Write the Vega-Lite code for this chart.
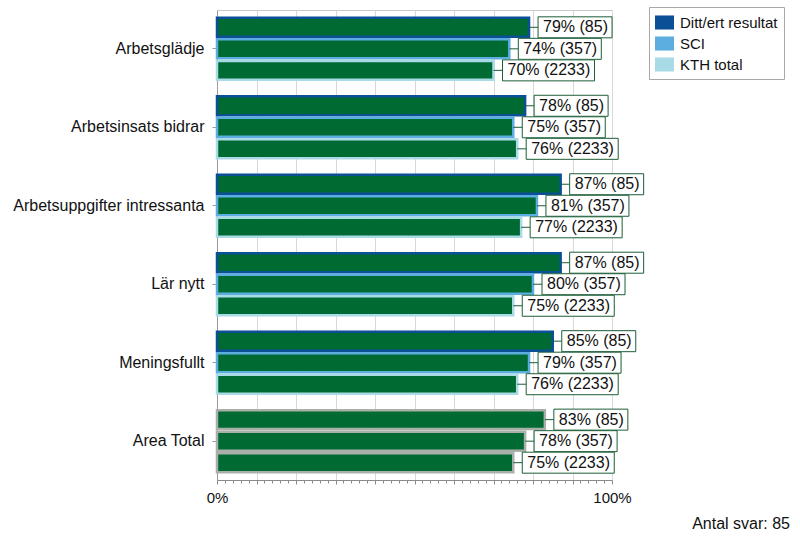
{
  "$schema": "https://vega.github.io/schema/vega-lite/v6.json",
  "width": 395,
  "height": 470,
  "autosize": {"type": "none"},
  "padding": {"left": 217, "top": 10, "right": 188, "bottom": 60},
  "background": "#ffffff",
  "config": {
    "font": "Liberation Sans",
    "view": {"stroke": "#c8c8c8", "strokeWidth": 1},
    "axis": {"labelFont": "Liberation Sans", "labelFontSize": 16, "labelColor": "#111111"}
  },
  "title": {
    "text": "Antal svar: 85",
    "orient": "bottom",
    "anchor": "end",
    "frame": "group",
    "dx": 178,
    "offset": 11,
    "fontSize": 16,
    "fontWeight": "normal",
    "font": "Liberation Sans",
    "color": "#111111"
  },
  "data": {
    "values": [
      {"cat": "Arbetsglädje", "series": "Ditt/ert resultat", "value": 79, "label": "79% (85)"},
      {"cat": "Arbetsglädje", "series": "SCI", "value": 74, "label": "74% (357)"},
      {"cat": "Arbetsglädje", "series": "KTH total", "value": 70, "label": "70% (2233)"},
      {"cat": "Arbetsinsats bidrar", "series": "Ditt/ert resultat", "value": 78, "label": "78% (85)"},
      {"cat": "Arbetsinsats bidrar", "series": "SCI", "value": 75, "label": "75% (357)"},
      {"cat": "Arbetsinsats bidrar", "series": "KTH total", "value": 76, "label": "76% (2233)"},
      {"cat": "Arbetsuppgifter intressanta", "series": "Ditt/ert resultat", "value": 87, "label": "87% (85)"},
      {"cat": "Arbetsuppgifter intressanta", "series": "SCI", "value": 81, "label": "81% (357)"},
      {"cat": "Arbetsuppgifter intressanta", "series": "KTH total", "value": 77, "label": "77% (2233)"},
      {"cat": "Lär nytt", "series": "Ditt/ert resultat", "value": 87, "label": "87% (85)"},
      {"cat": "Lär nytt", "series": "SCI", "value": 80, "label": "80% (357)"},
      {"cat": "Lär nytt", "series": "KTH total", "value": 75, "label": "75% (2233)"},
      {"cat": "Meningsfullt", "series": "Ditt/ert resultat", "value": 85, "label": "85% (85)"},
      {"cat": "Meningsfullt", "series": "SCI", "value": 79, "label": "79% (357)"},
      {"cat": "Meningsfullt", "series": "KTH total", "value": 76, "label": "76% (2233)"},
      {"cat": "Area Total", "series": "Ditt/ert resultat", "value": 83, "label": "83% (85)"},
      {"cat": "Area Total", "series": "SCI", "value": 78, "label": "78% (357)"},
      {"cat": "Area Total", "series": "KTH total", "value": 75, "label": "75% (2233)"}
    ]
  },
  "encoding": {
    "y": {
      "field": "cat",
      "type": "nominal",
      "sort": ["Arbetsglädje", "Arbetsinsats bidrar", "Arbetsuppgifter intressanta", "Lär nytt", "Meningsfullt", "Area Total"],
      "scale": {"paddingInner": 0.21, "paddingOuter": 0.1},
      "axis": {
        "title": null,
        "tickSize": 5,
        "labelPadding": 8,
        "labelLimit": 400,
        "domainColor": "#9a9a9a",
        "tickColor": "#9a9a9a",
        "labelFontSize": 16
      }
    },
    "yOffset": {
      "field": "series",
      "type": "nominal",
      "sort": ["Ditt/ert resultat", "SCI", "KTH total"],
      "scale": {"paddingInner": 0.12, "paddingOuter": 0}
    }
  },
  "layer": [
    {
      "mark": {"type": "bar", "opacity": 0},
      "encoding": {
        "x": {"field": "value", "type": "quantitative", "axis": null},
        "color": {
          "field": "series",
          "type": "nominal",
          "sort": ["Ditt/ert resultat", "SCI", "KTH total"],
          "scale": {"domain": ["Ditt/ert resultat", "SCI", "KTH total"], "range": ["#0b4f97", "#5caee0", "#a9dbe6"]},
          "legend": {
            "orient": "none",
            "legendX": 432,
            "legendY": -3,
            "title": null,
            "symbolType": "M-1,-0.74H1V0.74H-1Z",
            "symbolSize": 361,
            "symbolStrokeWidth": 0,
            "symbolOpacity": 1,
            "labelFontSize": 15,
            "labelFont": "Liberation Sans",
            "labelColor": "#111111",
            "labelOffset": 6,
            "strokeColor": "#a8a8a8",
            "padding": 6,
            "rowPadding": 3
          }
        }
      }
    },
    {
      "mark": {"type": "bar", "fill": "#006a33", "strokeWidth": 2.5, "cornerRadius": 0},
      "encoding": {
        "x": {
          "field": "value",
          "type": "quantitative",
          "scale": {"domain": [0, 100], "nice": false},
          "axis": {
            "orient": "bottom",
            "title": null,
            "values": [0, 10, 20, 30, 40, 50, 60, 70, 80, 90, 100],
            "labelExpr": "datum.value == 0 || datum.value == 100 ? datum.value + '%' : ''",
            "labelFlush": false,
            "labelOverlap": false,
            "grid": true,
            "gridColor": "#d8d8d8",
            "tickSize": 4,
            "tickColor": "#8a8a8a",
            "domainColor": "#8a8a8a",
            "labelPadding": 6,
            "labelFontSize": 15
          }
        },
        "stroke": {
          "condition": {"test": "datum.cat === 'Area Total'", "value": "#a9b0a9"},
          "field": "series",
          "type": "nominal",
          "sort": ["Ditt/ert resultat", "SCI", "KTH total"],
          "scale": {"domain": ["Ditt/ert resultat", "SCI", "KTH total"], "range": ["#0b4f97", "#5caee0", "#a9dbe6"]},
          "legend": null
        }
      }
    },
    {
      "mark": {"type": "rule", "color": "#1b5e36", "strokeWidth": 1, "x2Offset": 9},
      "encoding": {
        "x": {
          "field": "value",
          "type": "quantitative",
          "axis": {
            "orient": "bottom",
            "values": [0, 2, 4, 6, 8, 12, 14, 16, 18, 22, 24, 26, 28, 32, 34, 36, 38, 42, 44, 46, 48, 52, 54, 56, 58, 62, 64, 66, 68, 72, 74, 76, 78, 82, 84, 86, 88, 92, 94, 96, 98],
            "labels": false,
            "grid": false,
            "domain": false,
            "tickSize": 3,
            "tickColor": "#8a8a8a",
            "title": null
          }
        },
        "x2": {"field": "value"}
      }
    },
    {
      "transform": [{"filter": "datum.series === 'Ditt/ert resultat'"}],
      "mark": {"type": "bar", "fill": "#ffffff", "stroke": "#1b5e36", "strokeWidth": 1, "height": 21, "xOffset": 9, "x2Offset": 83},
      "encoding": {
        "x": {"field": "value", "type": "quantitative", "axis": null},
        "x2": {"field": "value"}
      }
    },
    {
      "transform": [{"filter": "datum.series === 'SCI'"}],
      "mark": {"type": "bar", "fill": "#ffffff", "stroke": "#1b5e36", "strokeWidth": 1, "height": 21, "xOffset": 9, "x2Offset": 92},
      "encoding": {
        "x": {"field": "value", "type": "quantitative", "axis": null},
        "x2": {"field": "value"}
      }
    },
    {
      "transform": [{"filter": "datum.series === 'KTH total'"}],
      "mark": {"type": "bar", "fill": "#ffffff", "stroke": "#1b5e36", "strokeWidth": 1, "height": 21, "xOffset": 9, "x2Offset": 101},
      "encoding": {
        "x": {"field": "value", "type": "quantitative", "axis": null},
        "x2": {"field": "value"}
      }
    },
    {
      "mark": {"type": "text", "align": "left", "baseline": "middle", "dx": 14, "fontSize": 16, "font": "Liberation Sans", "color": "#111111"},
      "encoding": {
        "x": {"field": "value", "type": "quantitative", "axis": null},
        "text": {"field": "label"}
      }
    }
  ],
  "resolve": {"axis": {"x": "independent"}}
}
